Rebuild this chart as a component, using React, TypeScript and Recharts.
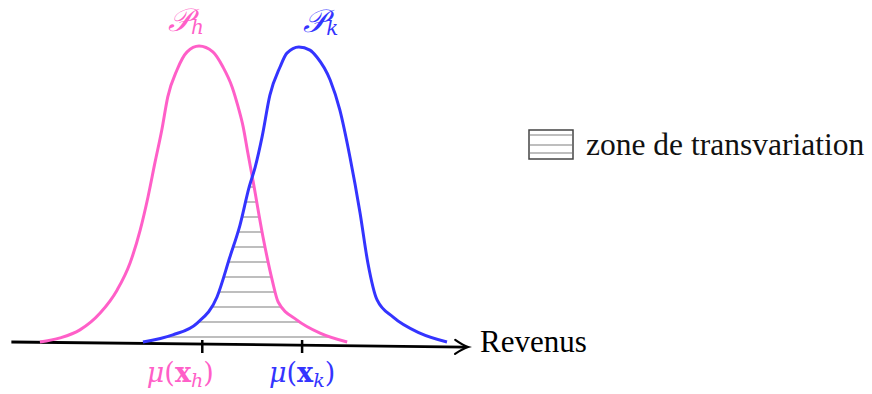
import {
  Area,
  ComposedChart,
  Legend,
  Line,
  ReferenceDot,
  ReferenceLine,
  XAxis,
  YAxis,
} from "recharts";

// revenue (0-100) / density (0-100)
const revenueH = [6.5, 10.9, 15.2, 19.6, 23.3, 26.1, 28.3, 30.0, 31.5, 33.0, 34.3, 36.3, 38.5, 41.1, 44.1, 46.3, 48.3, 49.6, 50.7, 51.7, 52.8, 55.0, 57.0, 58.3, 62.4, 67.4, 73.3];
const densityH = [0, 1.4, 4.1, 9.8, 17.6, 26.7, 37.8, 49.0, 60.5, 71.6, 82.8, 91.9, 98.0, 100, 98.0, 92.9, 86.1, 79.4, 72.6, 63.9, 54.7, 35.5, 20.9, 13.5, 7.4, 3.0, 0];

const revenueK = [28.9, 35.4, 40.7, 45.0, 47.8, 50.0, 52.0, 53.3, 54.8, 56.5, 58.7, 60.2, 62.8, 65.2, 66.7, 69.6, 71.7, 73.9, 76.1, 77.8, 79.8, 83.3, 89.1, 95.0];
const densityK = [0, 2.4, 6.4, 15.2, 28.7, 39.5, 52.4, 59.1, 69.3, 83.4, 92.9, 97.6, 99.7, 98.6, 96.3, 88.5, 78.4, 62.5, 43.6, 26.7, 14.2, 8.4, 3.0, 0];

// where the two curves cross
const crossing = { x: 52.6, y: 55.4 };

const means = [41.8, 63.5];
const meanSubs = ["h", "k"];
const groupSubs = ["h", "k"];

const axisStart = { x: 0.3, y: 0 };
const axisEnd = { x: 99.6, y: -1.7 };

const PINK = "#ff5fc8";
const BLUE = "#3434ff";
const HATCH = "#a8a8a8";
const colors = [PINK, BLUE];

const curveH = revenueH.map((x, i) => ({ x, y: densityH[i] }));
const curveK = revenueK.map((x, i) => ({ x, y: densityK[i] }));
const overlap = [
  ...curveK.filter((p) => p.x < crossing.x),
  crossing,
  ...curveH.filter((p) => p.x > crossing.x),
];

const peakOf = (pts: { x: number; y: number }[]) =>
  pts.reduce((a, b) => (b.y > a.y ? b : a));

const MeanTick = (props: any) => {
  const { x, y, index } = props;
  const color = colors[index];
  const dx = index === 0 ? -22 : 0;
  return (
    <g>
      <line x1={x} y1={y - 2} x2={x} y2={y + 11} stroke="#000" strokeWidth={2.5} />
      <text
        x={x + dx}
        y={y + 40}
        textAnchor="middle"
        fill={color}
        fontFamily="DejaVu Serif"
        fontSize={27}
      >
        <tspan fontStyle="italic">μ</tspan>
        <tspan>(</tspan>
        <tspan fontWeight="bold">x</tspan>
        <tspan fontStyle="italic" fontSize={19} dy={5}>
          {meanSubs[index]}
        </tspan>
        <tspan dy={-5}>)</tspan>
      </text>
    </g>
  );
};

const AxisName = (props: any) => {
  const { viewBox } = props;
  return (
    <text
      x={viewBox.x + viewBox.width + 10}
      y={viewBox.y + 10}
      fontFamily="Liberation Serif"
      fontSize={31}
      fill="#000"
    >
      Revenus
    </text>
  );
};

const peakLabel = (index: number, dx: number) => (props: any) => {
  const { viewBox } = props;
  return (
    <text
      x={viewBox.x + dx}
      y={viewBox.y - 15}
      textAnchor="middle"
      fill={colors[index]}
      fontFamily="DejaVu Serif"
      fontSize={32}
    >
      <tspan fontStyle="italic">𝒫</tspan>
      <tspan fontStyle="italic" fontSize={20} dy={3}>
        {groupSubs[index]}
      </tspan>
    </text>
  );
};

const ArrowAxis = (props: any) => {
  const { x1, y1, x2, y2 } = props;
  const a = Math.atan2(y2 - y1, x2 - x1);
  const rot = (a * 180) / Math.PI;
  return (
    <g>
      <line x1={x1} y1={y1} x2={x2 - 2} y2={y2} stroke="#000" strokeWidth={2.8} />
      <path
        d="M -13 -7 Q -5 -1.5 0 0 Q -5 1.5 -13 7"
        transform={`translate(${x2},${y2}) rotate(${rot})`}
        fill="none"
        stroke="#000"
        strokeWidth={2.2}
        strokeLinecap="round"
      />
    </g>
  );
};

const LegendBox = () => (
  <div style={{ display: "flex", alignItems: "center" }}>
    <svg width={46} height={31}>
      <rect x={1} y={1} width={44} height={29} fill="#fff" stroke="#444" strokeWidth={1.5} />
      <line x1={2} y1={6} x2={44} y2={6} stroke={HATCH} strokeWidth={1.5} />
      <line x1={2} y1={16} x2={44} y2={16} stroke={HATCH} strokeWidth={1.5} />
      <line x1={2} y1={24} x2={44} y2={24} stroke={HATCH} strokeWidth={1.5} />
    </svg>
    <span
      style={{
        fontFamily: "Liberation Serif",
        fontSize: 31.5,
        lineHeight: "31px",
        marginLeft: 12,
        color: "#111",
        whiteSpace: "nowrap",
      }}
    >
      zone de transvariation
    </span>
  </div>
);

const App = () => {
  const peakH = peakOf(curveH);
  const peakK = peakOf(curveK);
  return (
    <div style={{ position: "absolute", left: 0, top: 0 }}>
      <ComposedChart
        width={872}
        height={394}
        margin={{ top: 46, right: 402, bottom: 32, left: 10 }}
      >
        <defs>
          <pattern id="hatch" patternUnits="userSpaceOnUse" width={10} height={15}>
            <line x1={0} y1={7} x2={10} y2={7} stroke={HATCH} strokeWidth={1.5} />
          </pattern>
        </defs>
        <XAxis
          type="number"
          dataKey="x"
          domain={[0, 100]}
          ticks={means}
          interval={0}
          height={20}
          tickSize={0}
          tickMargin={0}
          tickLine={false}
          axisLine={false}
          tick={<MeanTick />}
          label={{ content: <AxisName /> }}
        />
        <YAxis type="number" dataKey="y" domain={[0, 100]} hide />
        <Area
          data={overlap}
          dataKey="y"
          type="monotone"
          stroke="none"
          fill="url(#hatch)"
          fillOpacity={1}
          isAnimationActive={false}
        />
        <ReferenceLine
          segment={[axisStart, axisEnd]}
          ifOverflow="visible"
          shape={<ArrowAxis />}
        />
        <Line
          data={curveH}
          dataKey="y"
          type="monotone"
          stroke={PINK}
          strokeWidth={3}
          dot={false}
          activeDot={false}
          isAnimationActive={false}
        />
        <Line
          data={curveK}
          dataKey="y"
          type="monotone"
          stroke={BLUE}
          strokeWidth={3}
          dot={false}
          activeDot={false}
          isAnimationActive={false}
        />
        <ReferenceDot x={peakH.x} y={peakH.y} r={0} stroke="none" label={peakLabel(0, -13)} />
        <ReferenceDot x={peakK.x} y={peakK.y} r={0} stroke="none" label={peakLabel(1, 22)} />
        <Legend
          layout="horizontal"
          verticalAlign="middle"
          align="center"
          content={<LegendBox />}
          wrapperStyle={{ left: 528, top: 129, width: "auto" }}
        />
      </ComposedChart>
    </div>
  );
};

export default App;
